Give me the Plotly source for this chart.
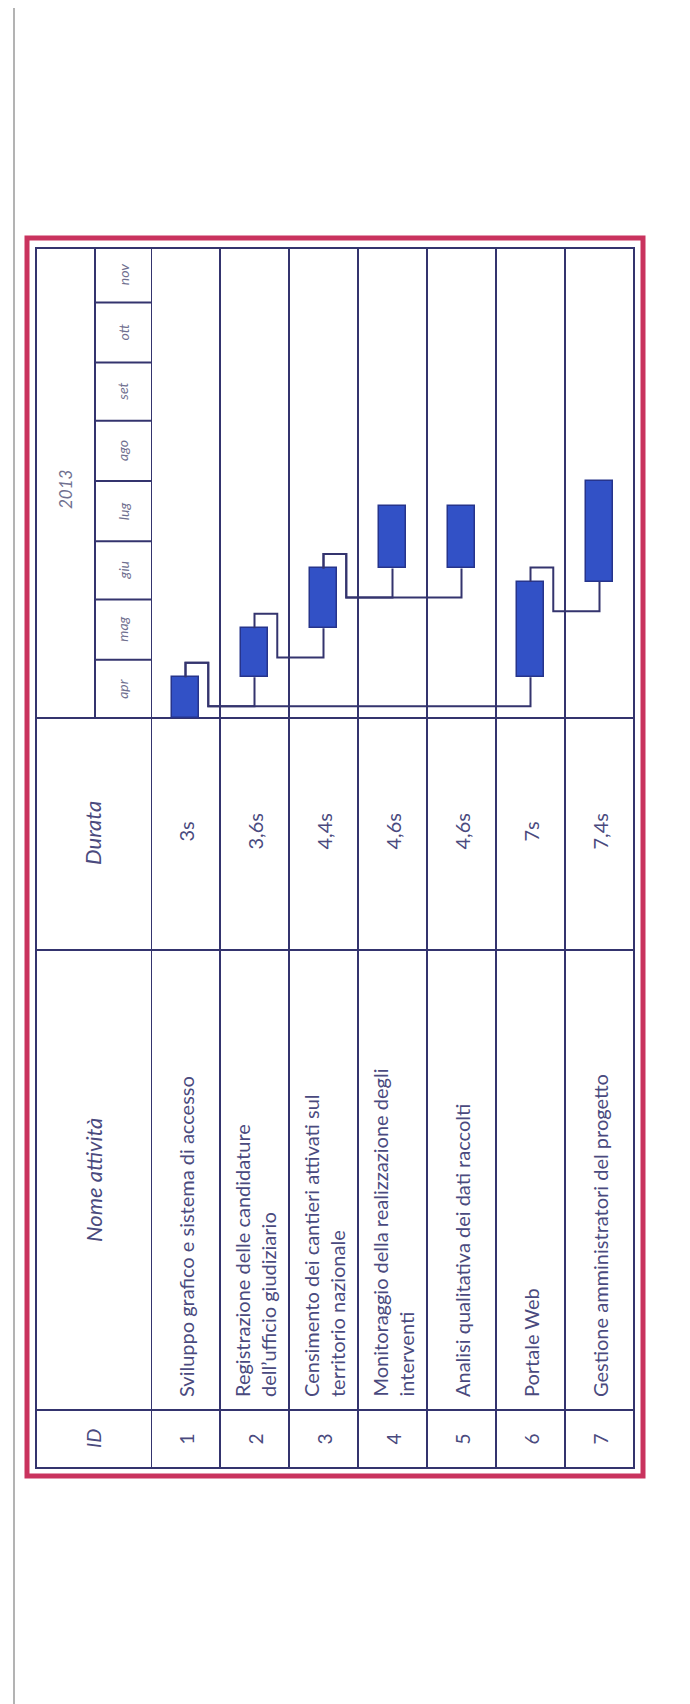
import plotly.graph_objects as go
from datetime import datetime, timedelta

W, H = 690, 1704

# ---- data ----
ids = [1, 2, 3, 4, 5, 6, 7]
task_names = [
    "Sviluppo grafico e sistema di accesso",
    "Registrazione delle candidature<br>dell’ufficio giudiziario",
    "Censimento dei cantieri attivati sul<br>territorio nazionale",
    "Monitoraggio della realizzazione degli<br>interventi",
    "Analisi qualitativa dei dati raccolti",
    "Portale Web",
    "Gestione amministratori del progetto",
]
duration_weeks = [3, 3.6, 4.4, 4.6, 4.6, 7, 7.4]
duration_labels = ["3s", "3,6s", "4,4s", "4,6s", "4,6s", "7s", "7,4s"]
predecessors = [None, 1, 2, 3, 3, 1, 6]
months = ["apr", "mag", "giu", "lug", "ago", "set", "ott", "nov"]
month_starts = [datetime(2013, m, 1) for m in range(4, 12)]
year_label = "2013"
project_start = datetime(2013, 4, 1)
axis_end = datetime(2013, 11, 29)

# schedule: finish-to-start links
starts, finishes = {}, {}
for i, d, p in zip(ids, duration_weeks, predecessors):
    s = project_start if p is None else finishes[p]
    starts[i] = s
    finishes[i] = s + timedelta(weeks=d)

LINE = "#34346e"
TEXT = "#4a4a7e"
FONT = "Lato"


def px(x):
    return x / W


def py(y):
    return 1 - y / H


fig = go.Figure()

# task bars (time runs upward)
fig.add_trace(go.Bar(
    x=ids,
    y=[timedelta(weeks=d).total_seconds() * 1000 for d in duration_weeks],
    base=[starts[i].isoformat() for i in ids],
    width=0.39,
    marker=dict(color="#3251c6", line=dict(color="#26348c", width=1.5)),
    hoverinfo="skip",
))

# dependency links
for i, p in zip(ids, predecessors):
    if p is None:
        continue
    f = finishes[p]
    up = f + timedelta(days=7.5)
    down = f - timedelta(days=15)
    fig.add_trace(go.Scatter(
        x=[p, p, p + 0.33, p + 0.33, i, i],
        y=[f, up, up, down, down, starts[i]],
        mode="lines", line=dict(color=LINE, width=2),
        hoverinfo="skip",
    ))

shapes = []
# page frame
shapes.append(dict(type="line", xref="paper", yref="paper", x0=px(6), x1=px(6), y0=py(0), y1=py(1702),
                   line=dict(color="#9a9a9a", width=1.5)))
shapes.append(dict(type="line", xref="paper", yref="paper", x0=px(6), x1=px(690), y0=py(1702), y1=py(1702),
                   line=dict(color="#9a9a9a", width=1.5)))
# red outer border
shapes.append(dict(type="rect", xref="paper", yref="paper", x0=px(19), x1=px(635), y0=py(230), y1=py(1468),
                   line=dict(color="#c9335e", width=5), layer="below"))
# table frame
shapes.append(dict(type="rect", xref="paper", yref="paper", x0=px(28), x1=px(626), y0=py(240), y1=py(1460),
                   line=dict(color=LINE, width=2), layer="below"))
# row separators
for k in range(7):
    shapes.append(dict(type="line", xref="x", yref="paper", x0=k + 0.5, x1=k + 0.5, y0=py(240), y1=py(1460),
                       line=dict(color=LINE, width=2), layer="below"))
# year / month split
shapes.append(dict(type="line", xref="paper", yref="paper", x0=px(87), x1=px(87), y0=py(240), y1=py(710),
                   line=dict(color=LINE, width=2), layer="below"))
# column separators
for yy in [710, 942, 1402]:
    shapes.append(dict(type="line", xref="paper", yref="paper", x0=px(28), x1=px(626), y0=py(yy), y1=py(yy),
                       line=dict(color=LINE, width=2), layer="below"))
# month separators
for m in month_starts[1:]:
    shapes.append(dict(type="line", xref="paper", yref="y", x0=px(87), x1=px(143), y0=m, y1=m,
                       line=dict(color=LINE, width=2), layer="below"))

ann = []


def label(text, x, y, xref="paper", yref="paper", size=20, italic=False, color=TEXT, yanchor="middle", align="center"):
    ann.append(dict(text=text, x=x, y=y, xref=xref, yref=yref, textangle=-90, showarrow=False,
                    xanchor="center", yanchor=yanchor, align=align,
                    font=dict(family=FONT, size=size, color=color, style="italic" if italic else "normal")))


# headers
label(year_label, px(57), py(482), size=17, italic=True, color="#70708f")
ends = month_starts[1:] + [axis_end]
for name, a, b in zip(months, month_starts, ends):
    label(name, px(115), a + (b - a) / 2, yref="y", size=14, italic=True, color="#70708f")
label("Durata", px(85), py(825), size=22, italic=True)
label("Nome attività", px(85), py(1172), size=22, italic=True)
label("ID", px(85), py(1431), size=20, italic=True)

# rows
for i, name, dl in zip(ids, task_names, duration_labels):
    label(dl, i, py(824), xref="x", size=20)
    label(str(i), i, py(1431), xref="x", size=19)
    label(name, i, py(1391), xref="x", size=20, yanchor="bottom", align="left")

fig.update_layout(
    width=W, height=H, autosize=False,
    margin=dict(l=0, r=0, t=0, b=0),
    paper_bgcolor="white", plot_bgcolor="rgba(0,0,0,0)",
    showlegend=False,
    xaxis=dict(domain=[px(143), px(626)], range=[0.5, 7.5], visible=False, fixedrange=True),
    yaxis=dict(domain=[py(710), py(240)], type="date", range=[project_start, axis_end],
               visible=False, fixedrange=True),
    shapes=shapes, annotations=ann,
    bargap=0,
)

fig.write_html("out.html", config={"displayModeBar": False})
